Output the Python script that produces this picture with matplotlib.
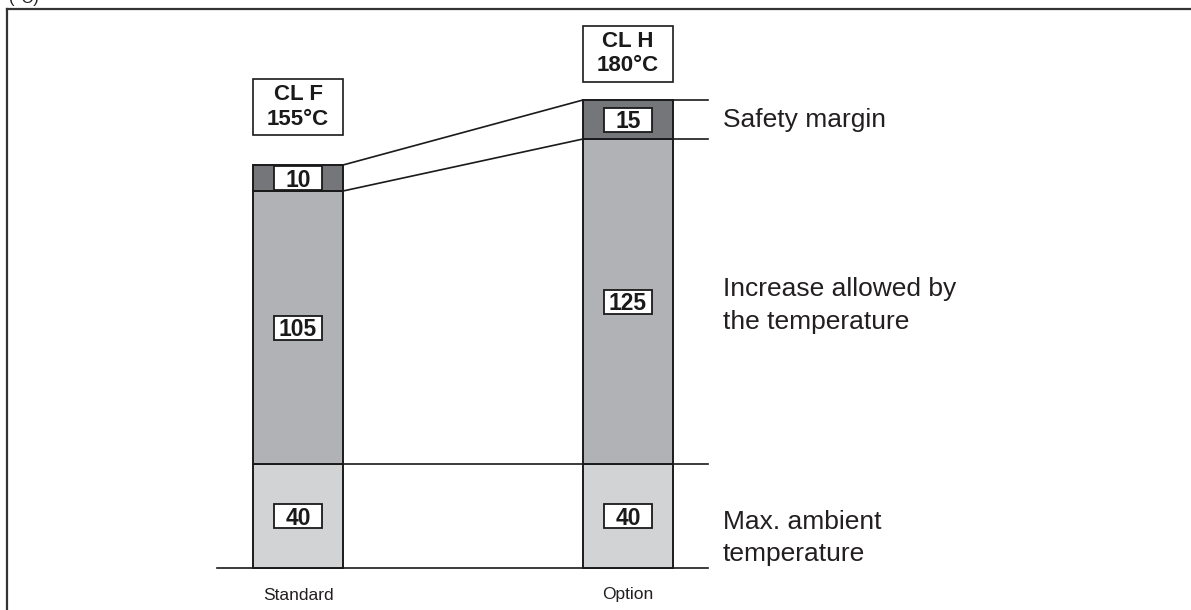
import matplotlib
matplotlib.use('Agg')
import matplotlib.pyplot as plt
import matplotlib.patches as mpatches
from matplotlib.lines import Line2D

plt.rcParams['font.family'] = ['Liberation Sans', 'DejaVu Sans']

# ─── Data ───
categories = ['Standard', 'Option']
ambient = [40, 40]          # max. ambient temperature
increase = [105, 125]       # increase allowed by the temperature
margin = [10, 15]           # safety margin
class_labels = ['CL F\n155°C', 'CL H\n180°C']
legend_labels = ['Max. ambient\ntemperature',
                 'Increase allowed by\nthe temperature',
                 'Safety margin']

C_AMB = '#d2d3d5'
C_INC = '#b1b2b6'
C_MAR = '#75767a'
C_EDGE = '#1a1a1a'

W, H = 1191, 610
fig = plt.figure(figsize=(W / 100, H / 100), dpi=100)
ax = fig.add_axes([0, 0, 1, 1])
ax.axis('off')

# pixel-ish layout: baseline at y=568 px, 2.6 px per degree, bars 330 px apart
ppu = 2.6
ax.set_ylim((568 - H) / ppu, 568 / ppu)
ax.set_xlim(-298 / 330, (W - 298) / 330)

x = [0, 1]
bw = 90 / 330
bot_inc = ambient
bot_mar = [a + b for a, b in zip(ambient, increase)]
tops = [a + b for a, b in zip(bot_mar, margin)]

kw = dict(width=bw, edgecolor=C_EDGE, linewidth=1.4, zorder=3)
ax.bar(x, ambient, color=C_AMB, **kw)
ax.bar(x, increase, bottom=bot_inc, color=C_INC, **kw)
ax.bar(x, margin, bottom=bot_mar, color=C_MAR, **kw)

# value boxes in the middle of each segment
bx_w, bx_h = 48 / 330, 24 / ppu
for i in range(2):
    for bottom, val in [(0, ambient[i]), (bot_inc[i], increase[i]), (bot_mar[i], margin[i])]:
        yc = bottom + val / 2
        ax.add_patch(mpatches.Rectangle((x[i] - bx_w / 2, yc - bx_h / 2), bx_w, bx_h,
                                        facecolor='white', edgecolor=C_EDGE,
                                        linewidth=1.3, zorder=4))
        ax.text(x[i], yc, str(val), ha='center', va='center_baseline',
                fontsize=16.5, fontweight='bold', color='#1a1a1a', zorder=5)

# class boxes above the bars
gaps = [11.5, 7]
cb_h = 56 / ppu
for i in range(2):
    y0 = tops[i] + gaps[i]
    ax.add_patch(mpatches.Rectangle((x[i] - bw / 2, y0), bw, cb_h,
                                    facecolor='white', edgecolor=C_EDGE,
                                    linewidth=1.2, zorder=4))
    ax.text(x[i], y0 + cb_h / 2, class_labels[i], ha='center', va='center',
            fontsize=16, fontweight='bold', color='#1a1a1a', linespacing=1.2, zorder=5)

# connecting lines between bars
lk = dict(color=C_EDGE, linewidth=1.2, zorder=2)
xr0, xl1, xr1 = x[0] + bw / 2, x[1] - bw / 2, x[1] + bw / 2
x_end = (708 - 298) / 330
ax.plot([xr0, xl1], [tops[0], tops[1]], **lk)
ax.plot([xr0, xl1], [bot_mar[0], bot_mar[1]], **lk)
ax.plot([xr0, xl1], [ambient[0], ambient[1]], **lk)
for yv in [ambient[1], bot_mar[1], tops[1]]:
    ax.plot([xr1, x_end], [yv, yv], **lk)
ax.plot([(217 - 298) / 330, x_end], [0, 0], **lk)

# right-hand labels
lab_y = [ambient[1] / 2 - 8.5, bot_inc[1] + increase[1] / 2 - 1.5, bot_mar[1] + margin[1] / 2]
for lbl, yv in zip(legend_labels, lab_y):
    ax.text((723 - 298) / 330, yv, lbl, ha='left', va='center',
            fontsize=19, color='#231f20', linespacing=1.45)

# category labels
for i, c in enumerate(categories):
    ax.text(x[i], -27 / ppu, c, ha='center', va='center', fontsize=12.5, color='#231f20')

# frame (top and left edges) and the cropped unit label
fig.add_artist(Line2D([7 / W, 1], [1 - 9 / H, 1 - 9 / H], color='#333333', linewidth=1.6))
fig.add_artist(Line2D([7 / W, 7 / W], [0, 1 - 9 / H], color='#333333', linewidth=1.6))
fig.text(9 / W, 1 - 3 / H, '(°C)', ha='left', va='baseline', fontsize=12, color='#231f20')

fig.savefig('out.png', dpi=100, facecolor='white')
